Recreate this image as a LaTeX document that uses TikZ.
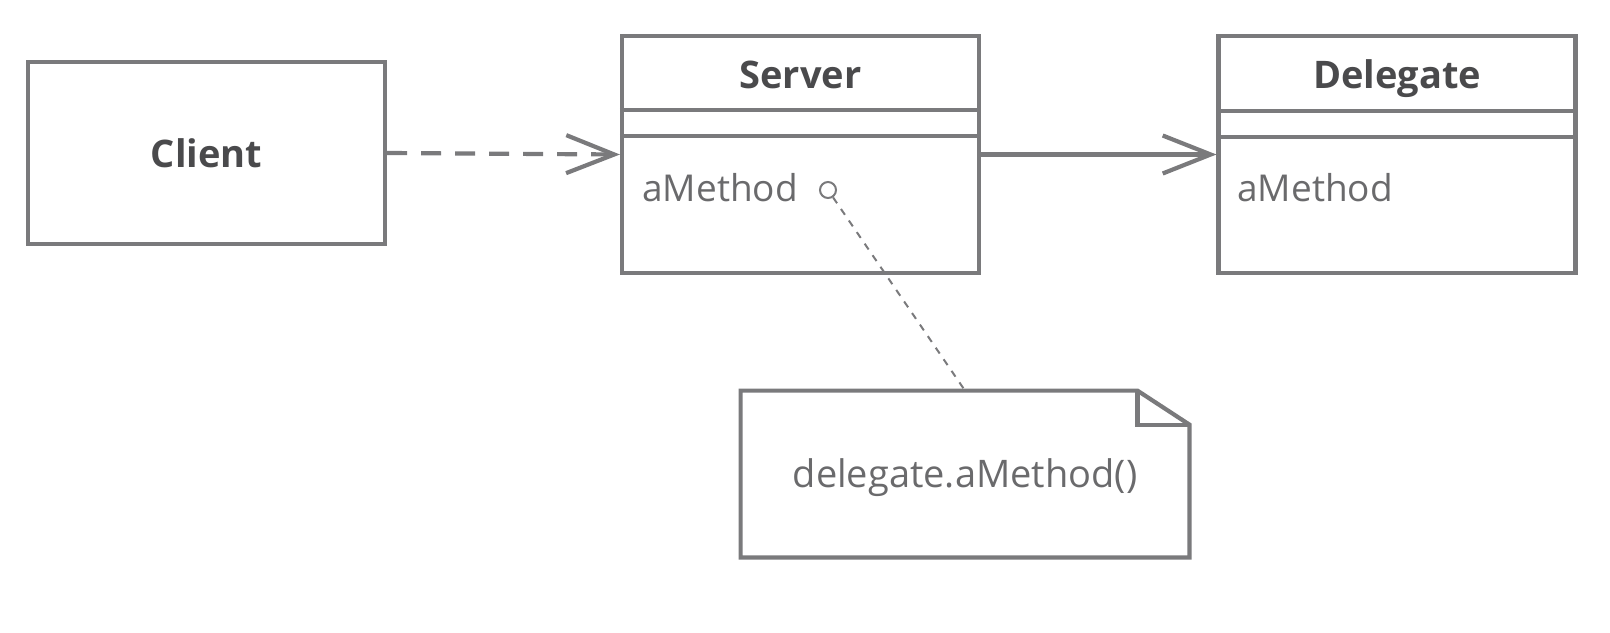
\documentclass[tikz,border=0pt]{standalone}
\usepackage{fontspec}
\setmainfont{Open Sans}
\usetikzlibrary{arrows.meta,calc}
\definecolor{linegray}{HTML}{7A7A7C}
\definecolor{boldtext}{HTML}{4A4A4C}
\definecolor{regtext}{HTML}{6A6A6C}
\tikzset{
  box/.style={draw=linegray,line width=2.1pt,rectangle,inner sep=0pt},
  title/.style={font=\fontsize{19}{22}\selectfont\bfseries,text=boldtext,inner sep=0pt},
  member/.style={font=\fontsize{18.5}{22}\selectfont,text=regtext,inner sep=0pt,anchor=west},
  barb/.style={-{Straight Barb[length=24pt,width=19pt,line width=2.1pt]}},
  conn/.style={draw=linegray,line width=2.1pt},
}
\begin{document}
\begin{tikzpicture}[x=0.5pt,y=-0.5pt]
\useasboundingbox (0,0) rectangle (1610,632);
% Client
\node[box,minimum width=178.5pt,minimum height=91pt] (client) at (206.5,153) {};
\node[title] (clientlbl) at (client.center) {Client};
% Server
\node[box,minimum width=178.5pt,minimum height=118.5pt] (server) at (800.5,154.5) {};
\draw[conn] ($(server.north west)+(0,76)$) -- ($(server.north east)+(0,76)$);
\draw[conn] ($(server.north west)+(0,102)$) -- ($(server.north east)+(0,102)$);
\node[title,anchor=base] (serverlbl) at (800.5,88) {Server};
\node[member] (servm) at (642,188) {aMethod};
\node[circle,draw=linegray,line width=1pt,minimum size=8pt,inner sep=0pt] (circ) at (828,190) {};
% Delegate
\node[box,minimum width=178.5pt,minimum height=118.5pt] (delegate) at (1397,154.5) {};
\draw[conn] ($(delegate.north west)+(0,77)$) -- ($(delegate.north east)+(0,77)$);
\draw[conn] ($(delegate.north west)+(0,103)$) -- ($(delegate.north east)+(0,103)$);
\node[title,anchor=base] (delegatelbl) at (1397,88) {Delegate};
\node[member] (delm) at (1237,188) {aMethod};
% Note
\node[rectangle,inner sep=0pt,minimum width=224pt,minimum height=83pt] (note) at (965,474) {};
\draw[conn,line join=miter] (note.north west) -- ($(note.north east)+(-52,0)$) -- ($(note.north east)+(0,34)$) -- (note.south east) -- (note.south west) -- cycle;
\draw[conn,line join=miter] ($(note.north east)+(-52,0)$) -- ($(note.north east)+(-52,34)$) -- ($(note.north east)+(0,34)$);
\node[font=\fontsize{19}{22}\selectfont,text=regtext,inner sep=0pt] (notetxt) at (965,478) {delegate.aMethod()};
% connectors
\draw[conn,barb,dash pattern=on 10pt off 7pt] (client.east) -- (server.west);
\draw[conn,barb] (server.east) -- (delegate.west);
\draw[draw=linegray,line width=1pt,dash pattern=on 3.5pt off 3.5pt] (circ) -- (note.north);
\end{tikzpicture}
\end{document}
